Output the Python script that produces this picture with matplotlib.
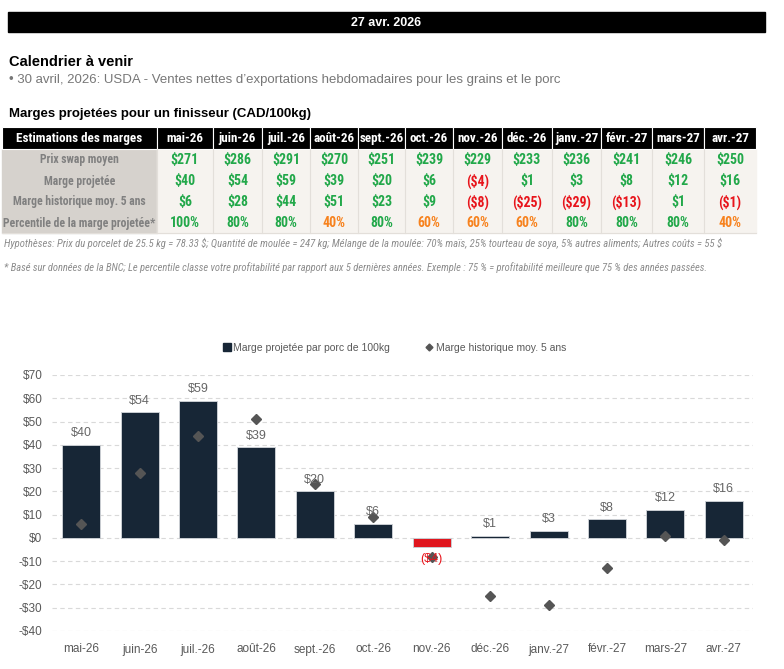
import numpy as np
import matplotlib
matplotlib.use("Agg")
import matplotlib.pyplot as plt
from matplotlib.patches import Rectangle
from matplotlib.lines import Line2D

plt.rcParams['text.parse_math'] = False

# donnees
months = ["mai-26", "juin-26", "juil.-26", "août-26", "sept.-26", "oct.-26",
          "nov.-26", "déc.-26", "janv.-27", "févr.-27", "mars-27", "avr.-27"]
swap = [271, 286, 291, 270, 251, 239, 229, 233, 236, 241, 246, 250]
proj = [40, 54, 59, 39, 20, 6, -4, 1, 3, 8, 12, 16]
hist = [6, 28, 44, 51, 23, 9, -8, -25, -29, -13, 1, -1]
pct = [100, 80, 80, 40, 80, 60, 60, 60, 80, 80, 80, 40]
row_labels = ["Prix swap moyen", "Marge projetée", "Marge historique moy. 5 ans",
              "Percentile de la marge projetée*"]

GREEN = "#22a84a"
RED = "#e8141b"
ORANGE = "#f7821e"
NAVY = "#172636"
COND = ['Roboto Condensed', 'Roboto', 'DejaVu Sans']
SANS = ['Liberation Sans', 'DejaVu Sans']

def money(v):
    return f"${v}" if v >= 0 else f"(${-v})"

fig = plt.figure(figsize=(7.84, 6.69), dpi=100)
renderer = fig.canvas.get_renderer()

def fit_size(t, width_px):
    # taille de police pour que le texte occupe width_px
    w = t.get_window_extent(renderer).width
    return t.get_fontsize() * width_px / w

bg = fig.add_axes([0, 0, 1, 1])
bg.set_xlim(0, 784)
bg.set_ylim(669, 0)
bg.axis('off')

# bandeau date
bg.add_patch(Rectangle((8, 12), 757, 20, color='black'))
bg.text(386, 22.5, "27 avr. 2026", color='white', fontsize=9, fontweight='bold',
        family=SANS, ha='center', va='center')

bg.text(9, 62, "Calendrier à venir", fontsize=10.5, fontweight='bold', family=SANS, va='center')
bg.text(9, 80, "• 30 avril, 2026: USDA - Ventes nettes d’exportations hebdomadaires pour les grains et le porc",
        fontsize=9.5, color='#777777', family=SANS, va='center')
bg.text(9, 114, "Marges projetées pour un finisseur (CAD/100kg)", fontsize=9.5,
        fontweight='bold', family=SANS, va='center')

# tableau
edges = [2, 157, 213, 262, 310, 358, 405, 453, 502, 552, 601, 652, 704, 756]
top, head_h, row_h = 127, 22, 21
bg.add_patch(Rectangle((edges[0], top + head_h), edges[1] - edges[0], 4 * row_h, color='#d6d2cd'))
bg.add_patch(Rectangle((edges[1], top + head_h), edges[-1] - edges[1], 4 * row_h, color='#f6f3ef'))
for i in range(len(edges) - 1):
    bg.add_patch(Rectangle((edges[i], top), edges[i + 1] - edges[i], head_h,
                           facecolor='black', edgecolor='white', lw=0.8))
for e in edges[1:-1]:
    bg.plot([e, e], [top + head_h, top + head_h + 4 * row_h], color='#e3dfda', lw=0.8)
bg.plot([edges[0], edges[-1]], [top + head_h + 4 * row_h] * 2, color='#e3dfda', lw=0.8)

tkw = dict(fontweight='bold', family=COND, fontstretch='condensed', ha='center', va='center')

head = bg.text((edges[0] + edges[1]) / 2, top + head_h / 2 + 0.5, "Estimations des marges",
               color='white', fontsize=10, **tkw)
hs = fit_size(head, 126)
head.set_fontsize(hs)
mtexts = []
for i, m in enumerate(months):
    cx = (edges[i + 1] + edges[i + 2]) / 2
    mtexts.append(bg.text(cx, top + head_h / 2 + 0.5, m, color='white', fontsize=hs, **tkw))
ms_ = min(hs, fit_size(mtexts[4], 44))
for t in mtexts:
    t.set_fontsize(ms_)

labs = []
for r, lab in enumerate(row_labels):
    cy = top + head_h + row_h * (r + 0.5) + 0.5
    labs.append(bg.text((edges[0] + edges[1]) / 2, cy, lab, color='#808080', fontsize=10, **tkw))
ls = fit_size(labs[-1], 152)
for t in labs:
    t.set_fontsize(ls)

vs = 10
for i in range(len(months)):
    cx = (edges[i + 1] + edges[i + 2]) / 2
    cells = [(f"${swap[i]}", GREEN),
             (money(proj[i]), GREEN if proj[i] >= 0 else RED),
             (money(hist[i]), GREEN if hist[i] >= 0 else RED),
             (f"{pct[i]}%", GREEN if pct[i] >= 80 else ORANGE)]
    for r, (txt, col) in enumerate(cells):
        cy = top + head_h + row_h * (r + 0.5) + 0.5
        bg.text(cx, cy, txt, color=col, fontsize=vs, **tkw)

n1 = bg.text(4, 243, "Hypothèses: Prix du porcelet de 25.5 kg = 78.33 $; Quantité de moulée = 247 kg; "
             "Mélange de la moulée: 70% maïs, 25% tourteau de soya, 5% autres aliments; Autres coûts = 55 $",
             fontsize=7.5, style='italic', color='#8c8c8c', family=COND, fontstretch='condensed',
             va='center')
n1.set_fontsize(fit_size(n1, 720))
n2 = bg.text(4, 268, "* Basé sur données de la BNC; Le percentile classe votre profitabilité par rapport aux "
             "5 dernières années. Exemple : 75 % = profitabilité meilleure que 75 % des années passées.",
             fontsize=7.5, style='italic', color='#8c8c8c', family=COND, fontstretch='condensed',
             va='center')
n2.set_fontsize(fit_size(n2, 708))

# graphique
ax = fig.add_axes([52 / 784, (669 - 631) / 669, (753 - 52) / 784, (631 - 375) / 669])
x = np.arange(len(months))
colors = [NAVY if v >= 0 else "#e0161e" for v in proj]
ax.bar(x, proj, width=0.65, color=colors, edgecolor='#c9cdd2', linewidth=0.7, zorder=2)
ax.plot(x, hist, ls='none', marker='D', ms=5.5, color='#555555', zorder=3)

for i, v in enumerate(proj):
    if v >= 0:
        ax.annotate(money(v), (i, v), xytext=(0, 4), textcoords='offset points',
                    ha='center', va='bottom', fontsize=9, color='#666666', family=SANS)
    else:
        ax.annotate(money(v), (i, v), xytext=(0, -4), textcoords='offset points',
                    ha='center', va='top', fontsize=9, color=RED, family=SANS)

ax.set_xlim(-0.5, len(months) - 0.5)
ax.set_ylim(-40, 70)
yt = np.arange(-40, 71, 10)
ax.set_yticks(yt)
ax.set_yticklabels([f"${t}" if t >= 0 else f"-${-t}" for t in yt])
ax.set_xticks(x)
ax.set_xticklabels(months)
ax.tick_params(length=0, labelsize=8.5, labelcolor='#595959')
ax.tick_params(axis='y', pad=7)
ax.tick_params(axis='x', pad=9)
for lab in ax.get_xticklabels() + ax.get_yticklabels():
    lab.set_family(SANS)
ax.grid(axis='y', color='#d9d9d9', ls=(0, (4, 3)), lw=0.8, zorder=0)
for s in ax.spines.values():
    s.set_visible(False)

handles = [Line2D([], [], ls='none', marker='s', ms=6, color=NAVY),
           Line2D([], [], ls='none', marker='D', ms=3.5, color='#555555')]
ax.legend(handles, ["Marge projetée par porc de 100kg", "Marge historique moy. 5 ans"],
          loc='center', bbox_to_anchor=(0.489, 1.105), ncol=2, frameon=False,
          labelcolor='#595959', handlelength=0.6, handletextpad=0.3,
          columnspacing=3.5, prop={'family': SANS, 'size': 7.5})

fig.savefig("out.png", dpi=100)
